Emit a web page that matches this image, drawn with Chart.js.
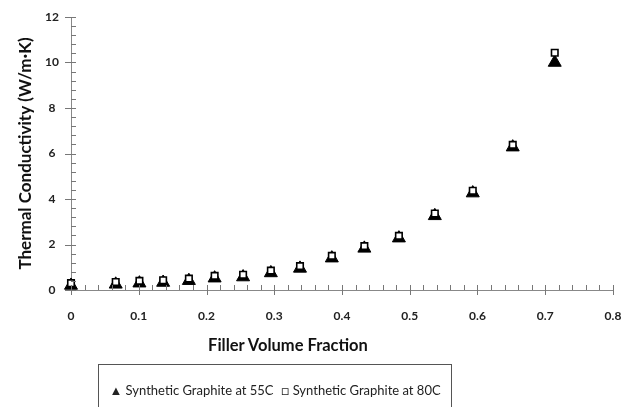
<!DOCTYPE html>
<html>
<head>
<meta charset="utf-8">
<script src="https://cdn.jsdelivr.net/npm/chart.js@4.4.1/dist/chart.umd.min.js"></script>
<style>
  html, body { margin: 0; padding: 0; background: #fff; overflow: hidden; }
  #wrap { position: relative; width: 622px; height: 407px; }
  #xtitle {
    position: absolute; left: 188px; width: 200px; top: 335px;
    font-family: Lato, sans-serif; font-size: 16.5px; font-weight: bold; color: #111;
    text-align: center; white-space: nowrap;
  }
  #legend {
    position: absolute; left: 98px; top: 364px; width: 354px; height: 60px;
    border: 1px solid #555; box-sizing: border-box;
    font-family: Lato, sans-serif; font-size: 13px; color: #222;
    text-align: center; padding-top: 17px; white-space: nowrap;
  }
  #legend span { margin: 0 4px; }
</style>
</head>
<body>
<div id="wrap">
  <canvas id="chart" width="622" height="407"></canvas>
  <div id="xtitle">Filler Volume Fraction</div>
  <div id="legend"></div>
</div>
<script>
// filler volume fraction (x)
var fractions = [0, 0.066, 0.101, 0.136, 0.174, 0.212, 0.254, 0.295, 0.338, 0.385, 0.433, 0.484, 0.537, 0.593, 0.652, 0.714];
// thermal conductivity, W/m·K
var graphite55 = [0.2, 0.25, 0.3, 0.33, 0.41, 0.52, 0.57, 0.75, 0.95, 1.4, 1.83, 2.28, 3.26, 4.26, 6.28, 10.0];
var graphite80 = [0.3, 0.35, 0.4, 0.43, 0.5, 0.62, 0.67, 0.85, 1.05, 1.5, 1.93, 2.38, 3.36, 4.36, 6.38, 10.43];
var seriesLabels = ["Synthetic Graphite at 55C", "Synthetic Graphite at 80C"];
var legendMarks = ["\u25B2", "\u25A1"];

function toPoints(xs, ys) {
  return xs.map(function (x, i) { return { x: x, y: ys[i] }; });
}

// draws the small Excel-style tick marks on both axes
var tickMarks = {
  id: "tickMarks",
  afterDraw: function (chart) {
    var ctx = chart.ctx;
    var xs = chart.scales.x, ys = chart.scales.y;
    var area = chart.chartArea;
    ctx.save();
    ctx.strokeStyle = "#777";
    ctx.lineWidth = 1;
    ctx.beginPath();
    for (var i = 0; i <= 40; i++) {
      var px = Math.round(xs.getPixelForValue(i * 0.02)) + 0.5;
      var major = i % 5 === 0;
      ctx.moveTo(px, area.bottom - 5);
      ctx.lineTo(px, area.bottom + (major ? 5 : 0));
    }
    for (var j = 0; j <= 30; j++) {
      var py = Math.round(ys.getPixelForValue(j * 0.4)) + 0.5;
      var majorY = j % 5 === 0;
      ctx.moveTo(area.left + 5, py);
      ctx.lineTo(area.left - (majorY ? 6 : 0), py);
    }
    ctx.stroke();
    ctx.restore();
  }
};

var ctx = document.getElementById("chart").getContext("2d");

var chart = new Chart(ctx, {
  type: "scatter",
  data: {
    datasets: [
      {
        label: seriesLabels[0],
        data: toPoints(fractions, graphite55),
        pointStyle: "triangle",
        pointRadius: 7.5,
        pointBackgroundColor: "#000",
        pointBorderColor: "#000",
        pointBorderWidth: 1,
        clip: false,
        order: 1
      },
      {
        label: seriesLabels[1],
        data: toPoints(fractions, graphite80),
        pointStyle: "rect",
        pointRadius: 4.6,
        pointBackgroundColor: "#fff",
        pointBorderColor: "#000",
        pointBorderWidth: 1.6,
        clip: false,
        order: 0
      }
    ]
  },
  options: {
    responsive: false,
    animation: false,
    layout: { padding: { left: 0, right: 0, top: 0, bottom: 47 } },
    plugins: {
      legend: { display: false },
      tooltip: { enabled: false }
    },
    scales: {
      x: {
        type: "linear",
        min: 0,
        max: 0.8,
        afterFit: function (scale) {
          scale.height = 70;
          scale.paddingLeft = 0;
          scale.paddingRight = 9;
        },
        ticks: {
          stepSize: 0.1,
          padding: 19,
          color: "#222",
          font: { family: "Lato", size: 12, weight: "bold" },
          callback: function (v) { return Math.round(v * 10) / 10; }
        },
        grid: { display: true, drawOnChartArea: false, drawTicks: false },
        border: { display: true, color: "#888", width: 1 }
      },
      y: {
        min: 0,
        max: 12,
        afterFit: function (scale) {
          scale.width = 71;
          scale.paddingTop = 17;
          scale.paddingBottom = 0;
        },
        ticks: {
          stepSize: 2,
          padding: 12,
          crossAlign: "center",
          color: "#222",
          font: { family: "Lato", size: 12, weight: "bold" }
        },
        grid: { display: true, drawOnChartArea: false, drawTicks: false },
        border: { display: true, color: "#888", width: 1 },
        title: {
          display: true,
          text: "Thermal Conductivity (W/m\u00B7K)",
          color: "#111",
          font: { family: "Lato", size: 17, weight: "bold" },
          padding: { top: 15, bottom: 0 }
        }
      }
    }
  },
  plugins: [tickMarks]
});

// legend built from the chart's own dataset labels
var legendDiv = document.getElementById("legend");
chart.data.datasets.forEach(function (ds, i) {
  var span = document.createElement("span");
  span.textContent = legendMarks[i] + " " + ds.label;
  legendDiv.appendChild(span);
});
</script>
</body>
</html>
